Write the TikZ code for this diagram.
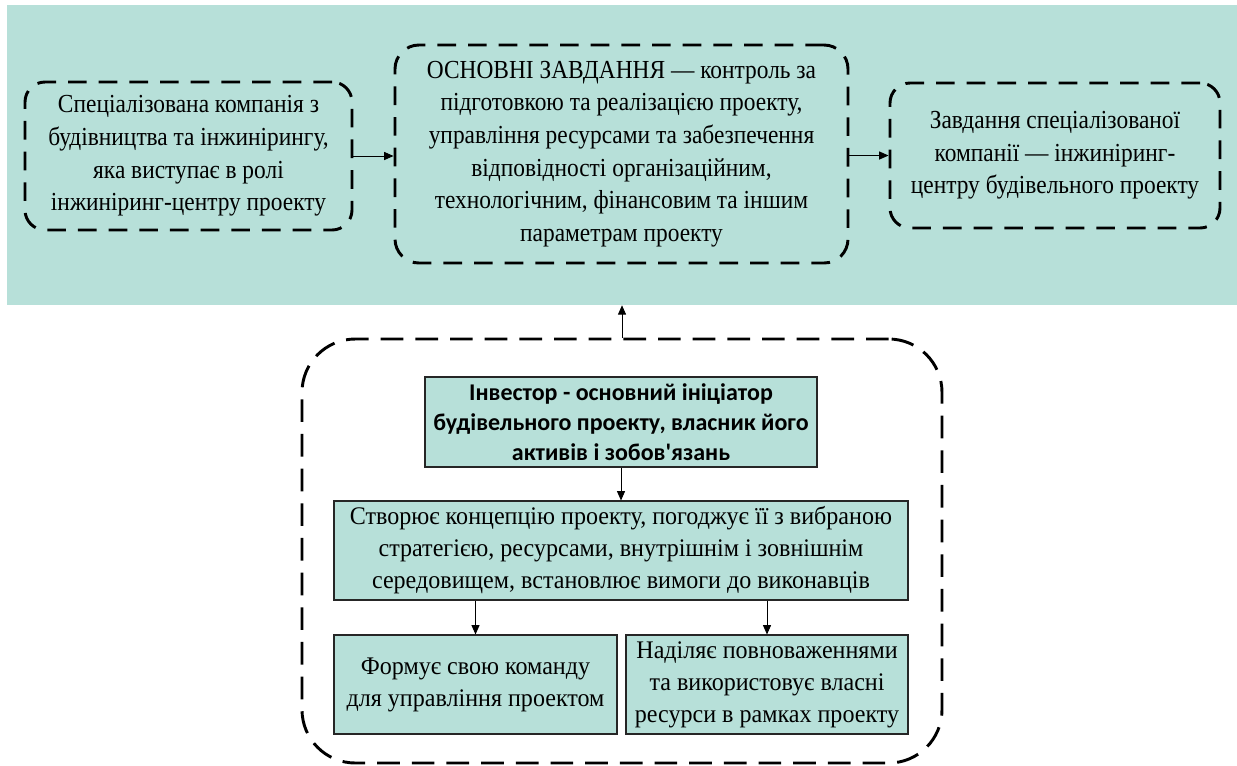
\documentclass[tikz,border=0pt]{standalone}
\usepackage{fontspec}
\setmainfont{Liberation Serif}
\newfontfamily\narrowserif[FakeStretch=0.9]{Liberation Serif}
\newfontfamily\lowserif[FakeStretch=0.95]{Liberation Serif}
\newfontfamily\boldsans{Carlito}
\usetikzlibrary{arrows.meta}
\definecolor{panel}{RGB}{183,224,217}
\tikzset{
  dashbox/.style={draw=black, line width=2.2pt, dash pattern=on 14pt off 9pt,
    rounded corners=15pt, align=center, inner sep=0pt,
    font=\narrowserif\fontsize{19.5}{24.5}\selectfont},
  bigdash/.style={draw=black, line width=2.2pt, dash pattern=on 17pt off 9pt,
    rounded corners=40pt},
  plainbox/.style={draw=black!85, line width=0.8pt, fill=panel, align=center,
    inner sep=0pt, font=\lowserif\fontsize{19}{24}\selectfont},
  boldbox/.style={plainbox, font=\boldsans\bfseries\fontsize{18}{22.5}\selectfont},
  link/.style={draw=black, line width=0.7pt, -{Triangle[length=7pt,width=6pt]}}
}
\begin{document}
\begin{tikzpicture}[x=0.75pt,y=-0.75pt]
\useasboundingbox (0,0) rectangle (1237,765);
% upper panel
\node[fill=panel, inner sep=0pt, minimum width=1230*0.75pt, minimum height=300*0.75pt]
  (panel) at (622,155) {};
\node[dashbox, minimum width=327*0.75pt, minimum height=148*0.75pt] (company) at (188.5,156)
  {Спеціалізована компанія з\\будівництва та інжинірингу,\\яка виступає в ролі\\інжиніринг-центру проекту};
\node[dashbox, rounded corners=18pt, minimum width=453*0.75pt, minimum height=218*0.75pt] (tasks) at (621.5,154)
  {ОСНОВНІ ЗАВДАННЯ — контроль за\\підготовкою та реалізацією проекту,\\управління ресурсами та забезпечення\\відповідності організаційним,\\технологічним, фінансовим та іншим\\параметрам проекту};
\node[dashbox, minimum width=330*0.75pt, minimum height=145*0.75pt] (engc) at (1055,155.5)
  {Завдання спеціалізованої\\компанії — інжиніринг-\\центру будівельного проекту};
\draw[link] (company.east) -- (company.east -| tasks.west);
\draw[link] (engc.west -| tasks.east) -- (engc.west);
% lower group
\node[bigdash, minimum width=640*0.75pt, minimum height=424*0.75pt] (group) at (622,551) {};
\draw[link] (group.north) -- (group.north |- panel.south);
\node[boldbox, minimum width=392*0.75pt, minimum height=90*0.75pt] (investor) at (621,422)
  {Інвестор - основний ініціатор\\будівельного проекту, власник його\\активів і зобов'язань};
\node[plainbox, minimum width=574*0.75pt, minimum height=99*0.75pt] (concept) at (621,550.5)
  {Створює концепцію проекту, погоджує її з вибраною\\стратегією, ресурсами, внутрішнім і зовнішнім\\середовищем, встановлює вимоги до виконавців};
\node[plainbox, minimum width=283*0.75pt, minimum height=99*0.75pt] (team) at (475.5,684.5)
  {Формує свою команду\\для управління проектом};
\node[plainbox, minimum width=282*0.75pt, minimum height=99*0.75pt] (powers) at (767,684.5)
  {Наділяє повноваженнями\\та використовує власні\\ресурси в рамках проекту};
\draw[link] (investor.south) -- (concept.north);
\draw[link] (concept.south -| team.north) -- (team.north);
\draw[link] (concept.south -| powers.north) -- (powers.north);
\end{tikzpicture}
\end{document}
